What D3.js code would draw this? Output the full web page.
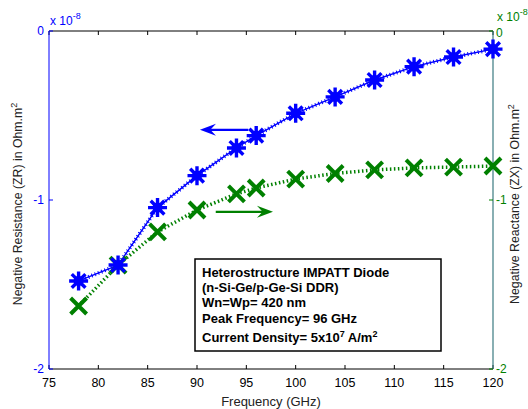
<!DOCTYPE html>
<html>
<head>
<meta charset="utf-8">
<script src="https://cdn.jsdelivr.net/npm/d3@7"></script>
<style>
  html, body { margin: 0; padding: 0; background: #fff; }
  svg { display: block; font-family: "Liberation Sans", Arial, sans-serif; }
</style>
</head>
<body>
<svg id="chart" width="528" height="409"></svg>
<script>
// Frequency points (GHz)
const freq = [78, 82, 86, 90, 94, 96, 100, 104, 108, 112, 116, 120];
// Negative resistance ZR (x 1e-8 Ohm.m^2)
const resistance = [-1.479, -1.385, -1.045, -0.856, -0.692, -0.619, -0.487, -0.39, -0.29, -0.211, -0.154, -0.107];
// Negative reactance ZX (x 1e-8 Ohm.m^2)
const reactance = [-1.627, -1.385, -1.189, -1.059, -0.964, -0.929, -0.876, -0.843, -0.822, -0.81, -0.805, -0.799];
const xTicks = [75, 80, 85, 90, 95, 100, 105, 110, 115, 120];
const yTicks = [0, -1, -2];
const noteLines = [
  "Heterostructure IMPATT Diode",
  "(n-Si-Ge/p-Ge-Si DDR)",
  "Wn=Wp= 420 nm",
  "Peak Frequency= 96 GHz"
];

const BLUE = "#0000ff", GREEN = "#008000", DARK = "#000";
const svg = d3.select("#chart");
const m = { left: 49, right: 493, top: 31, bottom: 369 };

const x = d3.scaleLinear().domain([75, 120]).range([m.left, m.right]);
const yL = d3.scaleLinear().domain([-2, 0]).range([m.bottom, m.top]);
const yR = d3.scaleLinear().domain([-2, 0]).range([m.bottom, m.top]);

// Frame: top and bottom axes in black
svg.append("line").attr("x1", m.left).attr("x2", m.right).attr("y1", m.top).attr("y2", m.top)
  .attr("stroke", DARK).attr("stroke-width", 1);
svg.append("line").attr("x1", m.left).attr("x2", m.right).attr("y1", m.bottom).attr("y2", m.bottom)
  .attr("stroke", DARK).attr("stroke-width", 1);

// Bottom axis ticks (inward) and labels
const gx = svg.append("g");
xTicks.forEach(t => {
  gx.append("line").attr("x1", x(t)).attr("x2", x(t)).attr("y1", m.bottom).attr("y2", m.bottom - 4)
    .attr("stroke", DARK);
  gx.append("line").attr("x1", x(t)).attr("x2", x(t)).attr("y1", m.top).attr("y2", m.top + 4)
    .attr("stroke", DARK);
  gx.append("text").attr("x", x(t)).attr("y", 387).attr("text-anchor", "middle")
    .attr("font-size", 12.5).attr("fill", DARK).text(t);
});
svg.append("text").attr("x", 271).attr("y", 406).attr("text-anchor", "middle")
  .attr("font-size", 13).attr("fill", "#222").text("Frequency (GHz)");

// Left axis (resistance) in blue
svg.append("line").attr("x1", m.left).attr("x2", m.left).attr("y1", m.top).attr("y2", m.bottom)
  .attr("stroke", BLUE).attr("stroke-width", 1);
yTicks.forEach(t => {
  svg.append("line").attr("x1", m.left).attr("x2", m.left + 4).attr("y1", yL(t)).attr("y2", yL(t))
    .attr("stroke", BLUE);
  svg.append("text").attr("x", m.left - 5).attr("y", yL(t) + 4).attr("text-anchor", "end")
    .attr("font-size", 12).attr("fill", BLUE).text(t === 0 ? "0" : "-" + Math.abs(t));
});
const expL = svg.append("text").attr("x", 50).attr("y", 25).attr("font-size", 12).attr("fill", BLUE);
expL.append("tspan").text("x 10");
expL.append("tspan").attr("dy", -6).attr("font-size", 9).text("-8");

// Right axis (reactance) in green
svg.append("line").attr("x1", m.right).attr("x2", m.right).attr("y1", m.top).attr("y2", m.bottom)
  .attr("stroke", "#3a7a80").attr("stroke-width", 1.2);
yTicks.forEach(t => {
  svg.append("line").attr("x1", m.right).attr("x2", m.right - 4).attr("y1", yR(t)).attr("y2", yR(t))
    .attr("stroke", GREEN);
  svg.append("text").attr("x", m.right + 3).attr("y", yR(t) + (t === 0 ? 6 : 4)).attr("text-anchor", "start")
    .attr("font-size", 12).attr("fill", GREEN).text(t === 0 ? "0" : "-" + Math.abs(t));
});
const expR = svg.append("text").attr("x", 497).attr("y", 21).attr("font-size", 12).attr("fill", GREEN);
expR.append("tspan").text("x 10");
expR.append("tspan").attr("dy", -6).attr("font-size", 9).text("-8");

// Axis titles
const titleL = svg.append("text").attr("transform", "translate(22,204) rotate(-90)")
  .attr("text-anchor", "middle").attr("font-size", 12.3).attr("fill", "#222");
titleL.append("tspan").text("Negative Resistance (ZR) in Ohm.m");
titleL.append("tspan").attr("dy", -5).attr("font-size", 9).text("2");

const titleR = svg.append("text").attr("transform", "translate(519,204) rotate(-90)")
  .attr("text-anchor", "middle").attr("font-size", 12.3).attr("fill", "#222");
titleR.append("tspan").text("Negative Reactance (ZX) in Ohm.m");
titleR.append("tspan").attr("dy", -5).attr("font-size", 9).text("2");

// Reactance curve: thick dotted green line with X markers
const lineR = d3.line().x((d, i) => x(freq[i])).y(d => yR(d));
svg.append("path").datum(reactance).attr("d", lineR).attr("fill", "none")
  .attr("stroke", GREEN).attr("stroke-width", 3.5).attr("stroke-dasharray", "1.5,2.5");

// Resistance curve: thin blue line with dense cross-hatched dots
const lineL = d3.line().x((d, i) => x(freq[i])).y(d => yL(d));
svg.append("path").datum(resistance).attr("d", lineL).attr("fill", "none")
  .attr("stroke", BLUE).attr("stroke-width", 1.4);
svg.append("path").datum(resistance).attr("d", lineL).attr("fill", "none")
  .attr("stroke", BLUE).attr("stroke-width", 4).attr("stroke-dasharray", "1,2.5");

// Green X markers
const xr = 8;
svg.append("g").selectAll("path").data(reactance).join("path")
  .attr("transform", (d, i) => `translate(${x(freq[i])},${yR(d)})`)
  .attr("d", `M${-xr},${-xr}L${xr},${xr}M${-xr},${xr}L${xr},${-xr}`)
  .attr("stroke", GREEN).attr("stroke-width", 4).attr("fill", "none");

// Blue asterisk markers
const sr = 9.5, sd = sr * 0.72;
svg.append("g").selectAll("path").data(resistance).join("path")
  .attr("transform", (d, i) => `translate(${x(freq[i])},${yL(d)})`)
  .attr("d", `M0,${-sr}L0,${sr}M${-sr},0L${sr},0M${-sd},${-sd}L${sd},${sd}M${-sd},${sd}L${sd},${-sd}`)
  .attr("stroke", BLUE).attr("stroke-width", 3.4).attr("fill", "none");
svg.append("g").selectAll("circle").data(resistance).join("circle")
  .attr("cx", (d, i) => x(freq[i])).attr("cy", d => yL(d)).attr("r", 5).attr("fill", BLUE);

// Arrows pointing to each curve's axis
function arrow(x1, x2, yv, color) {
  const dir = Math.sign(x2 - x1);
  const hl = 16, hw = 6;
  svg.append("line").attr("x1", x1).attr("x2", x2 - dir * hl * 0.6).attr("y1", yv).attr("y2", yv)
    .attr("stroke", color).attr("stroke-width", 2.2);
  svg.append("path")
    .attr("d", `M${x2},${yv}L${x2 - dir * hl},${yv - hw}L${x2 - dir * hl * 0.65},${yv}L${x2 - dir * hl},${yv + hw}Z`)
    .attr("fill", color);
}
arrow(x(95.2), x(90.3), yL(-0.585), BLUE);
arrow(x(91.9), x(97.7), yL(-1.07), GREEN);

// Annotation box
const box = svg.append("g");
box.append("rect").attr("x", 195).attr("y", 259).attr("width", 246).attr("height", 92)
  .attr("fill", "#fff").attr("stroke", DARK).attr("stroke-width", 1.5);
const lineYs = [277, 292, 307, 323];
noteLines.forEach((t, i) => {
  box.append("text").attr("x", 202).attr("y", lineYs[i]).attr("font-size", 13)
    .attr("font-weight", "bold").attr("fill", DARK).text(t);
});
const cd = box.append("text").attr("x", 202).attr("y", 342).attr("font-size", 13)
  .attr("font-weight", "bold").attr("fill", DARK);
cd.append("tspan").text("Current Density= 5x10");
cd.append("tspan").attr("dy", -5).attr("font-size", 9).text("7");
cd.append("tspan").attr("dy", 5).text(" A/m");
cd.append("tspan").attr("dy", -5).attr("font-size", 9).text("2");
</script>
</body>
</html>
